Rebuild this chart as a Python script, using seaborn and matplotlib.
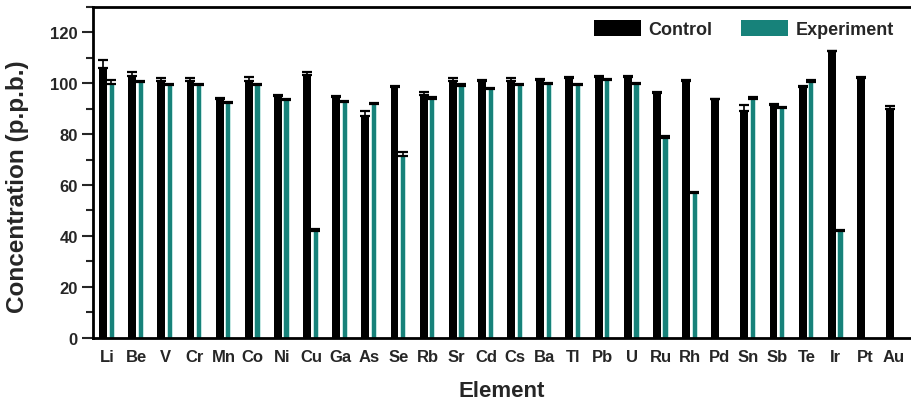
import numpy as np
import pandas as pd
import matplotlib
matplotlib.use("Agg")
import matplotlib.pyplot as plt
import seaborn as sns
from matplotlib.ticker import MultipleLocator

# data
elements = ['Li', 'Be', 'V', 'Cr', 'Mn', 'Co', 'Ni', 'Cu', 'Ga', 'As', 'Se', 'Rb', 'Sr', 'Cd',
            'Cs', 'Ba', 'Tl', 'Pb', 'U', 'Ru', 'Rh', 'Pd', 'Sn', 'Sb', 'Te', 'Ir', 'Pt', 'Au']
control = [106, 103, 100.7, 100.7, 93.7, 100.7, 95, 103.1, 94.5, 87, 98.7, 95.3, 100.9, 100.8,
           100.8, 101.2, 102, 102.6, 102.6, 96.1, 100.8, 93.6, 88.9, 91.4, 98.7, 112.5, 102.1, 89.8]
control_err = [3, 1.3, 1.3, 1.2, 0.6, 1.9, 0.5, 1.3, 0.4, 2.2, 0.3, 1.3, 1.1, 0.3,
               1.2, 0.5, 0.4, 0.4, 0.4, 0.3, 0.3, 0.3, 2.5, 0.3, 0.3, 0.3, 0.3, 1.4]
experiment = [99.6, 100.3, 99.1, 99.2, 92.3, 99.1, 93.3, 42.1, 92.5, 91.8, 71.5, 93.7, 98.8, 97.9,
              99.2, 99.7, 99.1, 101.2, 99.8, 78.3, 56.7, 0, 93.7, 90.3, 100.6, 42.1, 0, 0]
experiment_err = [1.5, 0.5, 0.4, 0.4, 0.4, 0.4, 0.4, 0.5, 0.4, 0.6, 1.3, 0.9, 1.0, 0.3,
                  0.4, 0.4, 0.4, 0.4, 0.4, 1.0, 0.4, 0, 0.8, 0.5, 0.8, 0.4, 0, 0]

groups = ['Control', 'Experiment']
colors = {'Control': '#000000', 'Experiment': '#17827a'}

df = pd.DataFrame({
    'Element': elements * 2,
    'Concentration': control + experiment,
    'err': control_err + experiment_err,
    'Group': ['Control'] * len(elements) + ['Experiment'] * len(elements),
})

sns.set_style("white")
plt.rcParams['font.family'] = ['Liberation Sans', 'DejaVu Sans']

fig, ax = plt.subplots(figsize=(9.11, 4.14), dpi=100)
fig.subplots_adjust(left=0.102, right=0.999, top=0.981, bottom=0.182)

sns.barplot(data=df, x='Element', y='Concentration', hue='Group', hue_order=groups,
            palette=colors, width=0.54, dodge=True, ax=ax, errorbar=None,
            saturation=1, linewidth=0)

# narrower experiment bars with a pale edge, and upward error bars
for grp, cont in zip(groups, ax.containers):
    sub = df[df['Group'] == grp]
    xs = []
    for patch in cont:
        if grp == 'Experiment':
            cx = patch.get_x() + patch.get_width() / 2 + 0.01
            patch.set_width(0.18)
            patch.set_x(cx - 0.09)
            patch.set_edgecolor('#cfeeea')
            patch.set_linewidth(0.6)
        xs.append(patch.get_x() + patch.get_width() / 2)
    vals = sub['Concentration'].values
    errs = sub['err'].values
    mask = vals > 0
    ax.errorbar(np.array(xs)[mask], vals[mask],
                yerr=[np.zeros(mask.sum()), errs[mask]],
                fmt='none', ecolor='black', elinewidth=1.2, capsize=3.5, capthick=1.6)

ax.set_ylim(0, 130)
ax.set_xlim(-0.48, len(elements) - 0.45)
ax.set_yticks([0, 20, 40, 60, 80, 100, 120])
ax.yaxis.set_minor_locator(MultipleLocator(10))
ax.tick_params(axis='y', which='major', direction='out', length=8, width=1.5,
               labelsize=12, left=True, pad=3)
ax.tick_params(axis='y', which='minor', direction='out', length=5, width=1.5, left=True)
ax.tick_params(axis='x', length=0, labelsize=12, pad=8)
for lab in ax.get_xticklabels() + ax.get_yticklabels():
    lab.set_fontweight('bold')

for side in ['left', 'bottom', 'top']:
    ax.spines[side].set_visible(True)
    ax.spines[side].set_linewidth(2)
    ax.spines[side].set_color('black')
ax.spines['right'].set_visible(False)

ax.set_ylabel('Concentration (p.p.b.)', fontsize=17.5, fontweight='bold', labelpad=12)
ax.yaxis.set_label_coords(-0.078, 0.46)
ax.set_xlabel('Element', fontsize=16, fontweight='bold', labelpad=12)

leg = ax.legend(loc='upper right', ncol=2, frameon=False, fontsize=13,
                handlelength=2.6, handleheight=1.0, columnspacing=1.6,
                handletextpad=0.4, bbox_to_anchor=(1.0, 1.01))
for t in leg.get_texts():
    t.set_fontweight('bold')

fig.savefig('out.png', dpi=100)
